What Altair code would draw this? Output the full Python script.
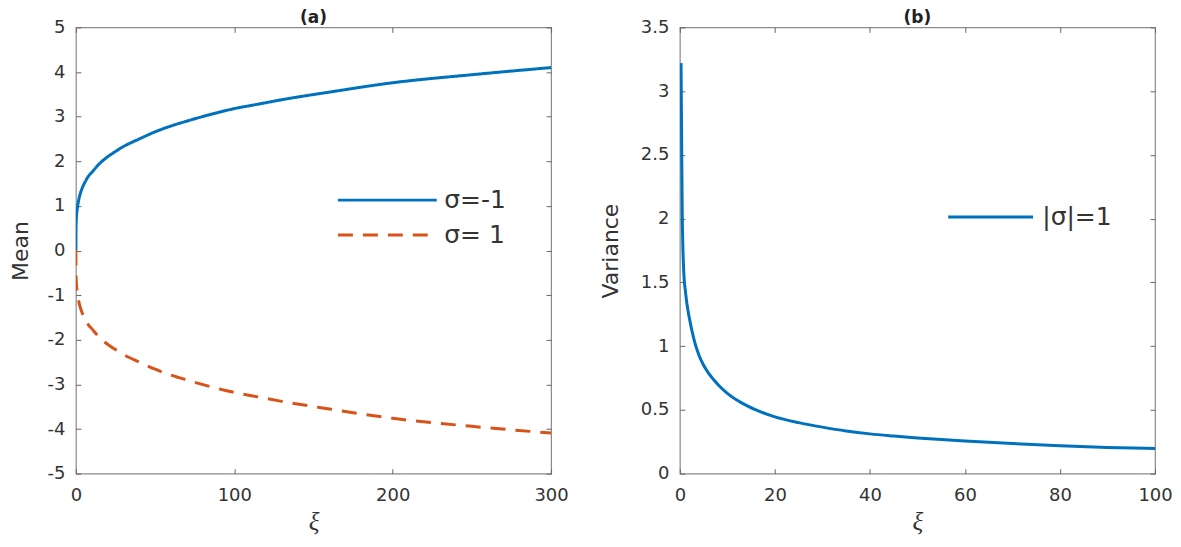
import altair as alt
import pandas as pd

# ---------------- data ----------------
xi_a = [0, 0.1, 0.25, 0.5, 1, 2, 3, 4, 6, 8, 10, 15, 20, 25, 30, 40, 50, 60, 70, 85, 100, 115, 130,
        160, 200, 250, 300]
mean_neg = [0, 0.55, 0.70, 0.82, 0.97, 1.17, 1.30, 1.40, 1.55, 1.67, 1.75, 1.95, 2.10, 2.22, 2.33,
            2.50, 2.66, 2.79, 2.90, 3.05, 3.18, 3.28, 3.38, 3.55, 3.76, 3.94, 4.10]
mean_pos = [0, -0.55, -0.70, -0.82, -0.97, -1.17, -1.30, -1.40, -1.55, -1.67, -1.75, -1.95, -2.10,
            -2.22, -2.33, -2.50, -2.66, -2.79, -2.90, -3.05, -3.18, -3.28, -3.38, -3.55, -3.76,
            -3.94, -4.09]
series_a = ["σ=-1", "σ= 1"]

xi_b = [0.25, 0.35, 0.5, 0.8, 1.2, 2, 3, 4, 5, 6, 8, 10, 13, 16, 20, 25, 30, 35, 40, 45, 50, 55,
        60, 70, 80, 90, 100]
variance = [3.22, 2.75, 2.05, 1.60, 1.42, 1.22, 1.05, 0.93, 0.85, 0.79, 0.70, 0.63, 0.555, 0.50,
            0.445, 0.40, 0.365, 0.335, 0.312, 0.295, 0.280, 0.267, 0.256, 0.236, 0.219, 0.206, 0.197]
series_b = ["|σ|=1"]

xticks_a = [0, 100, 200, 300]
yticks_a = [-5, -4, -3, -2, -1, 0, 1, 2, 3, 4, 5]
xticks_b = [0, 20, 40, 60, 80, 100]
yticks_b = [0, 0.5, 1, 1.5, 2, 2.5, 3, 3.5]

BLUE = "#0072BD"
ORANGE = "#D95319"
LABEL_FONT = "DejaVu Sans"
LABEL_COLOR = "#333333"
# horizontal line used as the legend symbol: from -r to 5r, r = sqrt(symbolSize)/2
LINE_SYMBOL = "M-1,0H5"

df_a = pd.DataFrame({
    "xi": xi_a + xi_a,
    "value": mean_neg + mean_pos,
    "series": [series_a[0]] * len(xi_a) + [series_a[1]] * len(xi_a),
})
df_b = pd.DataFrame({"xi": xi_b, "value": variance, "series": series_b * len(xi_b)})


def main_x_axis(values):
    return alt.Axis(values=values, title="ξ", offset=-5, tickSize=5, labelPadding=13,
                    labelFlush=False, labelOverlap=False,
                    titleFont="Liberation Serif", titleFontStyle="italic", titleFontWeight="normal",
                    titleFontSize=25, titlePadding=5, labelExpr="datum.value + ''")


def main_y_axis(values, title, tpad):
    return alt.Axis(values=values, title=title, offset=-5, tickSize=5, labelPadding=11,
                    labelFlush=False, labelOverlap=False,
                    titleFont=LABEL_FONT, titleFontWeight="normal", titleFontSize=22,
                    titlePadding=tpad, labelExpr="datum.value + ''")


def mirror_axis(values, orient):
    return alt.Axis(values=values, orient=orient, labels=False, title=None, offset=-5, tickSize=5,
                    minExtent=0, maxExtent=0)


def legend(x, y, size, offset):
    return alt.Legend(title=None, orient="none", legendX=x, legendY=y, symbolType=LINE_SYMBOL,
                      symbolSize=size, symbolStrokeWidth=3, labelFont=LABEL_FONT, labelFontSize=25,
                      labelColor=LABEL_COLOR, labelOffset=offset, rowPadding=4, padding=0)


def panel_title(text):
    return alt.TitleParams(text, fontSize=17, fontWeight="bold", font=LABEL_FONT, color="#222222",
                           offset=-9)


# ---------------- panel (a) ----------------
xs_a = alt.Scale(domain=[0, 300], nice=False, zero=False)
ys_a = alt.Scale(domain=[-5, 5], nice=False, zero=False)
leg_a = legend(261, 155, 1089, 72)

lines_a = alt.Chart(df_a).mark_line(strokeWidth=3, interpolate="monotone", clip=True).encode(
    x=alt.X("xi:Q", scale=xs_a, axis=main_x_axis(xticks_a)),
    y=alt.Y("value:Q", scale=ys_a, axis=main_y_axis(yticks_a, "Mean", 15)),
    color=alt.Color("series:N", scale=alt.Scale(domain=series_a, range=[BLUE, ORANGE]), legend=leg_a),
    strokeDash=alt.StrokeDash("series:N", scale=alt.Scale(domain=series_a, range=[[1, 0], [15, 10]]),
                              legend=leg_a),
)
mirror_a = alt.Chart(df_a).mark_line(opacity=0).encode(
    x=alt.X("xi:Q", scale=xs_a, axis=mirror_axis(xticks_a, "top")),
    y=alt.Y("value:Q", scale=ys_a, axis=mirror_axis(yticks_a, "right")),
)
panel_a = alt.layer(lines_a, mirror_a).resolve_axis(x="independent", y="independent").properties(
    width=476, height=447, title=panel_title("(a)"),
)

# ---------------- panel (b) ----------------
xs_b = alt.Scale(domain=[0, 100], nice=False, zero=False)
ys_b = alt.Scale(domain=[0, 3.5], nice=False, zero=False)
leg_b = legend(267, 174, 803, 64)

lines_b = alt.Chart(df_b).mark_line(strokeWidth=3, interpolate="monotone", clip=True).encode(
    x=alt.X("xi:Q", scale=xs_b, axis=main_x_axis(xticks_b)),
    y=alt.Y("value:Q", scale=ys_b, axis=main_y_axis(yticks_b, "Variance", 18)),
    color=alt.Color("series:N", scale=alt.Scale(domain=series_b, range=[BLUE]), legend=leg_b),
)
mirror_b = alt.Chart(df_b).mark_line(opacity=0).encode(
    x=alt.X("xi:Q", scale=xs_b, axis=mirror_axis(xticks_b, "top")),
    y=alt.Y("value:Q", scale=ys_b, axis=mirror_axis(yticks_b, "right")),
)
panel_b = alt.layer(lines_b, mirror_b).resolve_axis(x="independent", y="independent").properties(
    width=476, height=447, title=panel_title("(b)"),
)

chart = alt.hconcat(panel_a, panel_b, spacing=29).resolve_scale(
    color="independent", strokeDash="independent"
).properties(padding=0).configure_view(
    stroke="#8a8a8a", strokeWidth=1.2
).configure_axis(
    grid=False, domain=False, labelFont=LABEL_FONT, labelFontSize=18, labelColor=LABEL_COLOR,
    titleColor=LABEL_COLOR, tickColor="#666666", tickWidth=1
).configure_legend(
    labelLimit=300
)

chart.save("out.html", embed_options={"renderer": "svg", "actions": False})
